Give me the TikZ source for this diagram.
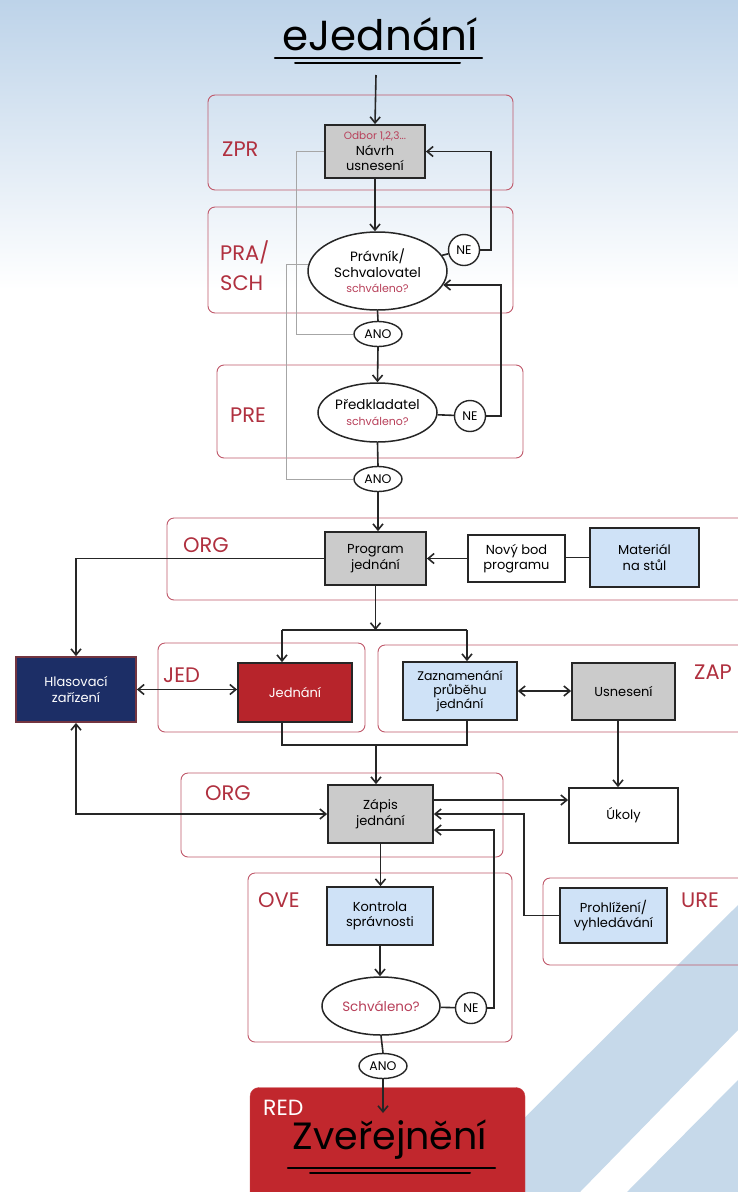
\documentclass[tikz,border=0pt]{standalone}
\usepackage{fontspec}
\setmainfont{Poppins}
\usetikzlibrary{arrows.meta,shapes.geometric,calc}
\definecolor{lanered}{HTML}{C0586A}
\definecolor{labred}{HTML}{B0303F}
\definecolor{boxgray}{HTML}{CBCBCB}
\definecolor{boxblue}{HTML}{CFE2F7}
\definecolor{navy}{HTML}{1C2E66}
\definecolor{darkred}{HTML}{B7242B}
\definecolor{redbox}{HTML}{C1272D}
\definecolor{bgblue}{HTML}{BDD3E9}
\definecolor{stripe}{HTML}{C6D9EA}
\definecolor{qred}{HTML}{B8405A}
\newcommand{\narrowbox}[1]{\makebox[56pt][c]{#1}}
\begin{document}
\begin{tikzpicture}[x=1pt,y=-1pt,
 lane/.style={draw=lanered, line width=0.9pt, rounded corners=7pt},
 lanelab/.style={text=labred, font=\fontsize{21}{30}\selectfont, align=left, inner sep=0pt, anchor=west},
 box/.style={draw=black!85, line width=1.8pt, align=center, font=\fontsize{13}{15.5}\selectfont, inner sep=1pt},
 dec/.style={ellipse, draw=black!85, line width=1.5pt, fill=white, align=center, font=\fontsize{13.5}{15.5}\selectfont, inner sep=0pt},
 yn/.style={ellipse, draw=black!85, line width=1.4pt, fill=white, font=\fontsize{12.5}{13}\selectfont, inner sep=0pt, minimum width=48pt, minimum height=25pt},
 nec/.style={circle, draw=black!85, line width=1.4pt, fill=white, font=\fontsize{12.5}{13}\selectfont, inner sep=0pt, minimum size=31pt},
 conn/.style={line width=1.6pt, draw=black!85},
 arr/.style={conn, -{Straight Barb[length=6pt,width=10pt]}},
 darr/.style={conn, {Straight Barb[length=6pt,width=10pt]}-{Straight Barb[length=6pt,width=10pt]}},
 gline/.style={draw=black!35, line width=1pt},
]
% background
\useasboundingbox (0,0) rectangle (738,1192);
\fill[white] (0,0) rectangle (738,1192);
\fill[top color=bgblue, bottom color=white] (0,0) rectangle (738,290);
\fill[stripe] (450,1192) -- (738,905) -- (738,1030) -- (580,1192) -- cycle;
\fill[stripe] (627,1192) -- (738,1080) -- (738,1192) -- cycle;

% lanes
\draw[lane] (208,95) rectangle (513,190);
\draw[lane] (208,207) rectangle (513,313);
\draw[lane] (217,365) rectangle (523,458);
\draw[lane] (167,518) rectangle (760,600);
\draw[lane] (158,643) rectangle (365,732);
\draw[lane] (378,645) rectangle (760,732);
\draw[lane] (181,773) rectangle (503,857);
\draw[lane] (248,873) rectangle (512,1042);
\draw[lane] (543,878) rectangle (760,965);

\node[lanelab] (lzpr) at (222,149) {ZPR};
\node[lanelab] (lpra) at (220,266) {PRA/\\SCH};
\node[lanelab] (lpre) at (230,415) {PRE};
\node[lanelab] (lorg1) at (183,545) {ORG};
\node[lanelab] (ljed) at (163,675) {JED};
\node[lanelab] (lzap) at (694,672) {ZAP};
\node[lanelab] (lorg2) at (205,793) {ORG};
\node[lanelab] (love) at (258,900) {OVE};
\node[lanelab] (lure) at (681,900) {URE};

% title
\node[font=\fontsize{42}{46}\selectfont, inner sep=0pt] (title) at (380,34) {eJednání};
\draw[line width=2.2pt, line cap=round] (275,58) -- (482,58);
\draw[line width=2pt, line cap=round] (295,63) -- (460,63);
\coordinate (tstart) at (376,75);

% nodes
\node[box, fill=boxgray, minimum width=100pt, minimum height=53pt] (navrh) at (375,151.5)
  {{\color{qred}\fontsize{10.5}{12}\selectfont Odbor 1,2,3...}\\Návrh\\usnesení};
\node[dec, minimum width=139pt, minimum height=78pt] (ell1) at (377.5,271)
  {\narrowbox{Právník/}\\\narrowbox{Schvalovatel}\\{\color{qred}\fontsize{11}{13}\selectfont\narrowbox{schváleno?}}};
\node[nec] (ne1) at (464,250) {NE};
\node[yn] (ano1) at (378,334) {ANO};
\node[dec, minimum width=119pt, minimum height=59pt] (ell2) at (377.5,412.5)
  {\narrowbox{Předkladatel}\\{\color{qred}\fontsize{11}{13}\selectfont\narrowbox{schváleno?}}};
\node[nec] (ne2) at (470,416) {NE};
\node[yn] (ano2) at (378,479) {ANO};

\node[box, fill=boxgray, minimum width=101pt, minimum height=53pt] (prog) at (375.5,558.5) {Program\\jednání};
\node[box, fill=white, minimum width=97pt, minimum height=47pt] (novy) at (516.5,558.5) {Nový bod\\programu};
\node[box, fill=boxblue, minimum width=109pt, minimum height=59pt] (mat) at (644.5,557.5) {Materiál\\na stůl};

\node[box, fill=navy, draw=lanered!60!black, text=white, minimum width=120pt, minimum height=65pt] (hlas) at (76,689.5) {Hlasovací\\zařízení};
\node[box, fill=darkred, text=white, minimum width=114pt, minimum height=59pt] (jed) at (295,692.5) {Jednání};
\node[box, fill=boxblue, minimum width=114pt, minimum height=58pt, font=\fontsize{12.5}{14}\selectfont] (zaz) at (460,691) {Zaznamenání\\průběhu\\jednání};
\node[box, fill=boxgray, minimum width=103pt, minimum height=57pt] (usn) at (623.5,691.5) {Usnesení};

\node[box, fill=boxgray, minimum width=105pt, minimum height=58pt] (zapis) at (380.5,814) {Zápis\\jednání};
\node[box, fill=white, minimum width=109pt, minimum height=55pt] (ukoly) at (623.5,815.5) {Úkoly};
\node[box, fill=boxblue, minimum width=106pt, minimum height=58pt] (kontrola) at (380,916) {Kontrola\\správnosti};
\node[box, fill=boxblue, minimum width=107pt, minimum height=55pt] (prohl) at (613.5,915.5) {Prohlížení/\\vyhledávání};
\node[dec, minimum width=118pt, minimum height=58pt] (ell3) at (381,1006) {{\color{qred}Schváleno?}};
\node[nec] (ne3) at (471,1008) {NE};
\node[yn] (ano3) at (383,1066) {ANO};

\node[fill=redbox, draw=redbox!85!white, rounded corners=9pt, minimum width=275pt, minimum height=125pt, inner sep=0pt] (pub) at (387.5,1150) {};
\node[text=white, font=\fontsize{22}{24}\selectfont, anchor=west, inner sep=0pt] (lred) at (263,1108) {RED};
\node[font=\fontsize{38}{42}\selectfont, inner sep=0pt] (zver) at (390,1140) {Zveřejnění};
\draw[line width=2.2pt, line cap=round] (288,1168) -- (495,1168);
\draw[line width=2pt, line cap=round] (310,1173) -- (470,1173);
\coordinate (redin) at (383,1113);

% gray return lines
\draw[gline] (navrh.west) -| (296,334) -- (ano1.west);
\draw[gline] (ell1.175) -| (286,479) -- (ano2.west);

% connectors
\draw[arr] (tstart) -- (navrh.north);
\draw[arr] (navrh.south) -- (navrh.south |- ell1.north);
\draw[conn] (ell1) -- (ne1);
\draw[arr] (ne1.east) -- ++(11,0) |- (navrh.east);
\draw[conn] (ell1.south) -- (ano1.north);
\draw[arr] (ano1.south) -- (ell2.north);
\draw[conn] (ell2) -- (ne2);
\draw[arr] (ne2.east) -- ++(15,0) |- (ell1.-12);
\draw[conn] (ell2.south) -- (ano2.north);
\draw[arr] (ano2.south) -- (ano2.south |- prog.north);

\draw[conn] (mat.west) -- (mat.west -| novy.east);
\draw[arr] (novy.west) -- (novy.west -| prog.east);
\draw[arr] (prog.west) -| (hlas.north);

\coordinate (barL) at (282,630);
\coordinate (barR) at (467,630);
\coordinate (barM) at (375.5,630);
\draw[arr] (prog.south) -- (barM);
\draw[conn] (barL) -- (barR);
\draw[arr] (barL) -- (barL |- jed.north);
\draw[arr] (barR) -- (barR |- zaz.north);
\draw[darr] (hlas.east) -- (hlas.east -| jed.west);
\draw[darr] (zaz.east) -- (zaz.east -| usn.west);

\coordinate (mrgL) at (282,745);
\coordinate (mrgR) at (467,745);
\coordinate (mrgM) at (376,745);
\draw[conn] (barL |- jed.south) -- (mrgL) -- (mrgR) -- (barR |- zaz.south);
\draw[arr] (mrgM) -- (mrgM |- zapis.north);
\draw[arr] ([xshift=-5.5pt]usn.south) -- ([xshift=-5.5pt]usn.south |- ukoly.north);

\draw[darr] (hlas.south) |- (zapis.west);
\draw[arr] ([yshift=14pt]zapis.east) -- ([yshift=14pt]zapis.east -| ukoly.west);
\draw[arr] (prohl.west) -- ++(-35,0) |- (zapis.east);
\draw[arr] (zapis.south) -- (zapis.south |- kontrola.north);
\draw[arr] (kontrola.south) -- (kontrola.south |- ell3.north);
\draw[conn] (ell3) -- (ne3);
\draw[arr] (ne3.east) -- ++(7,0) |- ([yshift=-16pt]zapis.east);
\draw[conn] (ell3.south) -- (ano3.north);
\draw[arr] (ano3.south) -- (redin);
\end{tikzpicture}
\end{document}
